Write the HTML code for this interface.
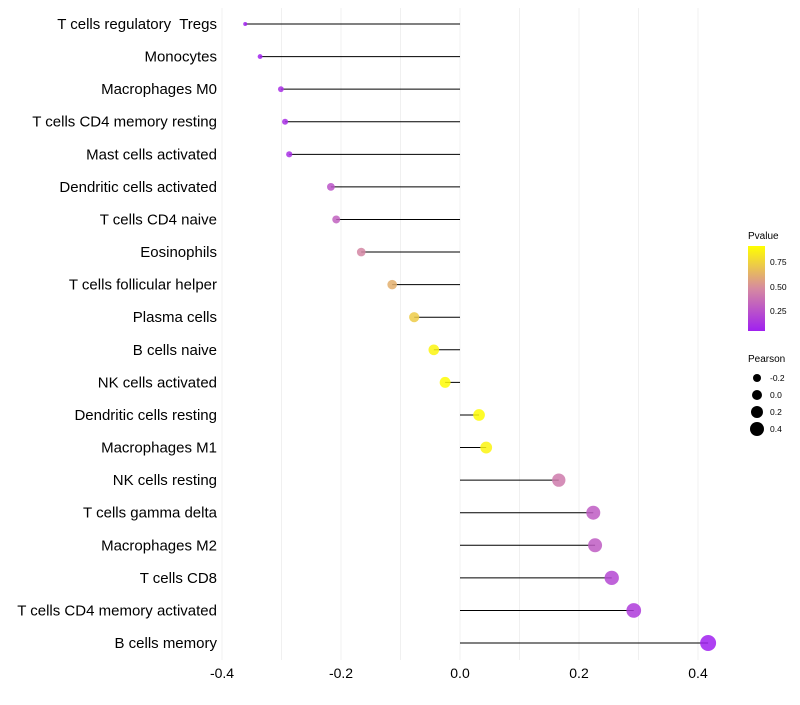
<!DOCTYPE html>
<html><head><meta charset="utf-8"><style>
body{margin:0;background:#fff;font-family:"Liberation Sans",sans-serif}
text{white-space:pre}
</style></head><body>
<svg id="chart" width="800" height="700" xmlns="http://www.w3.org/2000/svg">
<defs><linearGradient id="pg" x1="0" y1="1" x2="0" y2="0">
<stop offset="0" stop-color="#a020f0"/><stop offset="0.5" stop-color="#d68aa0"/><stop offset="1" stop-color="#ffff00"/></linearGradient></defs>
<g id="grid"></g><g id="marks"></g><g id="labels"></g><g id="legend"></g>
</svg>
<script>
const categories=["T cells regulatory  Tregs","Monocytes","Macrophages M0","T cells CD4 memory resting","Mast cells activated","Dendritic cells activated","T cells CD4 naive","Eosinophils","T cells follicular helper","Plasma cells","B cells naive","NK cells activated","Dendritic cells resting","Macrophages M1","NK cells resting","T cells gamma delta","Macrophages M2","T cells CD8","T cells CD4 memory activated","B cells memory"];
const pearson=[-0.361,-0.336,-0.301,-0.294,-0.287,-0.217,-0.208,-0.166,-0.114,-0.077,-0.044,-0.025,0.032,0.044,0.166,0.224,0.227,0.255,0.292,0.417];
const pvalue=[0.1,0.1,0.15,0.15,0.15,0.3,0.35,0.5,0.65,0.75,0.9,0.93,0.93,0.9,0.45,0.33,0.33,0.25,0.2,0.05];
const xTicks=[-0.4,-0.2,0,0.2,0.4];
const xTickLabels=["-0.4","-0.2","0.0","0.2","0.4"];
const NS="http://www.w3.org/2000/svg";
const X=v=>460+v*595;
const Y=i=>24+i*32.58;
const R=v=>Math.sqrt(Math.max(3,31.7+76.9*v));
function col(p){const t=Math.min(1,Math.max(0,(p-0.09)/0.85));
 const a=[160,32,240],m=[214,138,160],b=[255,255,0];
 let c=t<0.5?a.map((x,k)=>x+(m[k]-x)*t*2):m.map((x,k)=>x+(b[k]-x)*(t-0.5)*2);
 return `rgb(${c.map(Math.round).join(',')})`;}
function mk(tag,at,parent,txt){const e=document.createElementNS(NS,tag);for(const k in at)e.setAttribute(k,at[k]);if(txt!==undefined)e.textContent=txt;document.getElementById(parent).appendChild(e);return e;}
for(let v=-0.4;v<=0.41;v+=0.1){const l=mk('line',{x1:X(v),x2:X(v),y1:8,y2:660,stroke:'#f0f0f0','stroke-width':1},'grid');

}
xTicks.forEach((v,i)=>{const t=mk('text',{x:X(v),y:678,'text-anchor':'middle','font-size':14,fill:'#000'},'labels',xTickLabels[i]);

});
categories.forEach((c,i)=>{
 const t=mk('text',{x:217,y:Y(i)+5,'text-anchor':'end','font-size':15,fill:'#000'},'labels',c);
 
 
 const l=mk('line',{x1:X(0),x2:X(pearson[i]),y1:Y(i),y2:Y(i),stroke:'#000','stroke-width':1},'marks');
 
 
 const p=mk('circle',{cx:X(pearson[i]),cy:Y(i),r:R(pearson[i]),fill:col(pvalue[i]),'fill-opacity':0.85},'marks');
 
 
});
const lg=document.getElementById('legend');
lg.innerHTML=`<text x="748" y="239" font-size="10">Pvalue</text>
<rect x="748" y="246" width="17" height="85" fill="url(#pg)"/>
<text x="770" y="265" font-size="8.5">0.75</text><text x="770" y="290" font-size="8.5">0.50</text><text x="770" y="314" font-size="8.5">0.25</text>
<text x="748" y="362" font-size="10">Pearson</text>
<circle cx="757" cy="378" r="4"/><text x="770" y="381" font-size="8.5">-0.2</text>
<circle cx="757" cy="395" r="5"/><text x="770" y="398" font-size="8.5">0.0</text>
<circle cx="757" cy="412" r="6"/><text x="770" y="415" font-size="8.5">0.2</text>
<circle cx="757" cy="429" r="7"/><text x="770" y="432" font-size="8.5">0.4</text>`;
</script>
</body></html>
